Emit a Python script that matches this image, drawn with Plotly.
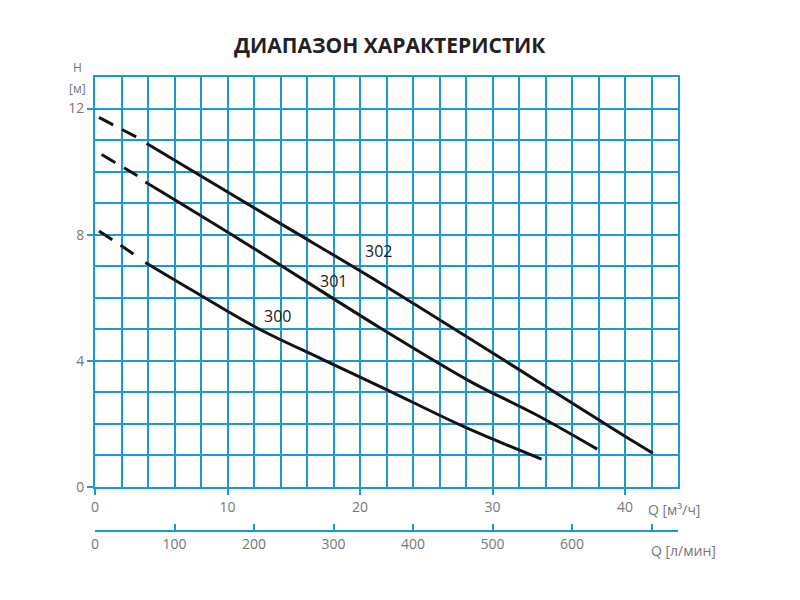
"""Pump performance range chart (H vs Q) for models 300, 301, 302."""

import plotly.graph_objects as go

GRID = "#1b9ad0"
TEXT = "#767676"
FONT = "Open Sans"

MODELS = ["300", "301", "302"]

# solid part of each curve, Q in m3/h, H in m
Q_300 = [3.8, 7.2, 12.2, 17.2, 22.0, 27.8, 33.7]
H_300 = [7.12, 6.27, 5.05, 4.04, 3.09, 1.92, 0.88]
Q_301 = [3.8, 10.9, 21.5, 28.3, 33.3, 37.9]
H_301 = [9.67, 7.85, 5.05, 3.35, 2.29, 1.20]
Q_302 = [3.9, 13.4, 21.4, 30.8, 39.6, 42.1]
H_302 = [10.89, 8.5, 6.5, 4.04, 1.71, 1.07]

# dashed start of each curve (low-flow zone)
Q_DASH = {"300": [0.3, 2.9], "301": [0.5, 3.2], "302": [0.3, 3.2]}
H_DASH = {"300": [8.12, 7.39], "301": [10.54, 9.87], "302": [11.72, 11.08]}

# curve label positions
LABEL_Q = [13.8, 18.0, 21.4]
LABEL_H = [5.42, 6.54, 7.48]

Q_TICKS = [0, 10, 20, 30, 40]
H_TICKS = [0, 4, 8, 12]
LMIN_TICKS = [0, 100, 200, 300, 400, 500, 600, 700]
Q_MAX, H_MAX = 44, 13

curves = {"300": (Q_300, H_300), "301": (Q_301, H_301), "302": (Q_302, H_302)}

fig = go.Figure()
for name in MODELS:
    q, h = curves[name]
    fig.add_trace(go.Scatter(x=Q_DASH[name], y=H_DASH[name], mode="lines", showlegend=False,
                             line={"color": "#111111", "width": 3, "dash": "16px,10px"},
                             hoverinfo="skip"))
    fig.add_trace(go.Scatter(x=q, y=h, mode="lines", name=name, showlegend=False,
                             line={"color": "#111111", "width": 3, "shape": "spline",
                                   "smoothing": 1.0}))

# empty trace so the l/min scale gets drawn
fig.add_trace(go.Scatter(x=[LMIN_TICKS[0], LMIN_TICKS[-1]], y=[None, None], xaxis="x2",
                         mode="lines", showlegend=False, hoverinfo="skip"))

for name, q, h in zip(MODELS, LABEL_Q, LABEL_H):
    fig.add_annotation(x=q, y=h, text=name, showarrow=False,
                       font={"family": FONT, "size": 16, "color": "#1a1a1a"})

fig.add_annotation(x=0, xref="paper", y=1, yref="paper", text="H", showarrow=False,
                   xanchor="center", yanchor="middle", xshift=-18, yshift=10,
                   font={"family": FONT, "size": 12, "color": TEXT})
fig.add_annotation(x=0, xref="paper", y=1, yref="paper", text="[м]", showarrow=False,
                   xanchor="center", yanchor="middle", xshift=-18, yshift=-11,
                   font={"family": FONT, "size": 12, "color": TEXT})
fig.add_annotation(x=41.6, y=0, text="Q [м³/ч]", showarrow=False, xanchor="left",
                   yanchor="middle", yshift=-23, font={"family": FONT, "size": 14, "color": TEXT})
fig.add_annotation(x=41.8, y=0, text="Q [л/мин]", showarrow=False, xanchor="left",
                   yanchor="middle", yshift=-64, font={"family": FONT, "size": 14, "color": TEXT})

# page puts the figure 8px in from the top-left corner, so size and margins allow for that
fig.update_layout(
    width=792, height=592, plot_bgcolor="white", paper_bgcolor="white",
    margin={"l": 87, "r": 122, "t": 69, "b": 69},
    font={"family": FONT, "size": 14, "color": TEXT},
    title={"text": "<b>ДИАПАЗОН ХАРАКТЕРИСТИК</b>", "x": 0.482, "xanchor": "center",
           "y": 1 - 38 / 592, "yanchor": "middle",
           "font": {"family": FONT, "size": 21, "color": "#222222"}},
    xaxis={"range": [0, Q_MAX], "tickvals": Q_TICKS, "ticks": "outside", "ticklen": 6,
           "tickwidth": 2, "tickcolor": GRID, "showgrid": True, "gridcolor": GRID, "gridwidth": 2,
           "minor": {"dtick": 2, "showgrid": True, "gridcolor": GRID, "gridwidth": 2},
           "showline": True, "mirror": True, "linecolor": GRID, "linewidth": 2,
           "zeroline": False, "anchor": "y"},
    xaxis2={"range": [0, Q_MAX * 1000 / 60], "tickvals": LMIN_TICKS,
            "ticktext": [str(v) for v in LMIN_TICKS[:-1]] + [""],
            "overlaying": "x", "anchor": "free", "position": 0, "side": "bottom",
            "ticks": "inside", "ticklen": 6, "tickwidth": 2, "tickcolor": GRID,
            "showline": True, "linecolor": GRID, "linewidth": 2, "showgrid": False,
            "zeroline": False},
    yaxis={"range": [0, H_MAX], "domain": [0.097, 1], "tickvals": H_TICKS, "ticks": "outside",
           "ticklen": 6, "tickwidth": 2, "tickcolor": GRID, "showgrid": True, "gridcolor": GRID,
           "gridwidth": 2, "minor": {"dtick": 1, "showgrid": True, "gridcolor": GRID, "gridwidth": 2},
           "showline": True, "mirror": True, "linecolor": GRID, "linewidth": 2, "zeroline": False},
)

fig.write_html("out.html")
